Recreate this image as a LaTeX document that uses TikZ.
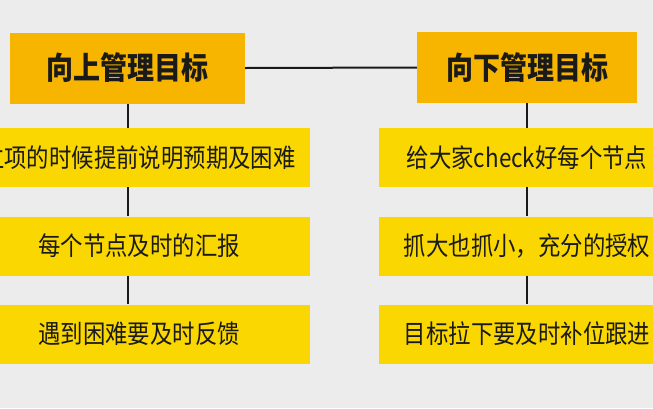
\documentclass[tikz,border=0pt]{standalone}
\usepackage{fontspec}
\setmainfont{Noto Sans CJK SC}
\usepackage{graphicx}
\definecolor{bg}{HTML}{ECECEC}
\definecolor{headfill}{HTML}{F7B500}
\definecolor{boxfill}{HTML}{FAD700}
\definecolor{ink}{HTML}{1A1A1A}
\tikzset{
  headbox/.style={fill=headfill, draw=none, inner sep=0pt, minimum height=71pt,
    font=\fontsize{27}{30}\selectfont\bfseries, text=ink},
  itembox/.style={fill=boxfill, draw=none, inner sep=0pt, minimum height=59pt,
    font=\fontsize{22.4}{26}\selectfont, text=ink},
  conn/.style={draw=ink, line width=2pt}
}
\newcommand{\tallt}[1]{\scalebox{1}[1.15]{#1}}
\begin{document}
\begin{tikzpicture}[x=1pt,y=-1pt]
\useasboundingbox (0,0) rectangle (653,408);
\clip (0,0) rectangle (653,408);
\fill[bg] (0,0) rectangle (653,408);
% headers
\node[headbox, minimum width=235pt] (lh) at (127.5,68) {\tallt{向上管理目标}};
\node[headbox, minimum width=220pt] (rh) at (527,67.5) {\tallt{向下管理目标}};
% left items
\node[itembox, minimum width=342pt] (l1) at (139,157.5) {\tallt{立项的时候提前说明预期及困难}};
\node[itembox, minimum width=342pt] (l2) at (139,246) {\tallt{每个节点及时的汇报}};
\node[itembox, minimum width=342pt] (l3) at (139,334) {\tallt{遇到困难要及时反馈}};
% right items
\node[itembox, minimum width=296pt] (r1) at (527,157.5) {\tallt{给大家check好每个节点}};
\node[itembox, minimum width=296pt] (r2) at (527,246) {\tallt{抓大也抓小，充分的授权}};
\node[itembox, minimum width=296pt] (r3) at (527,334) {\tallt{目标拉下要及时补位跟进}};
% connectors
\draw[conn] (lh.east) -- (rh.west);
\coordinate (lx) at (128,0);
\draw[conn] (lx |- lh.south) -- (lx |- l1.north);
\draw[conn] (lx |- l1.south) -- (lx |- l2.north);
\draw[conn] (lx |- l2.south) -- (lx |- l3.north);
\draw[conn] (rh.south) -- (rh.south |- r1.north);
\draw[conn] (r1.south) -- (r2.north);
\draw[conn] (r2.south) -- (r3.north);
\end{tikzpicture}
\end{document}
